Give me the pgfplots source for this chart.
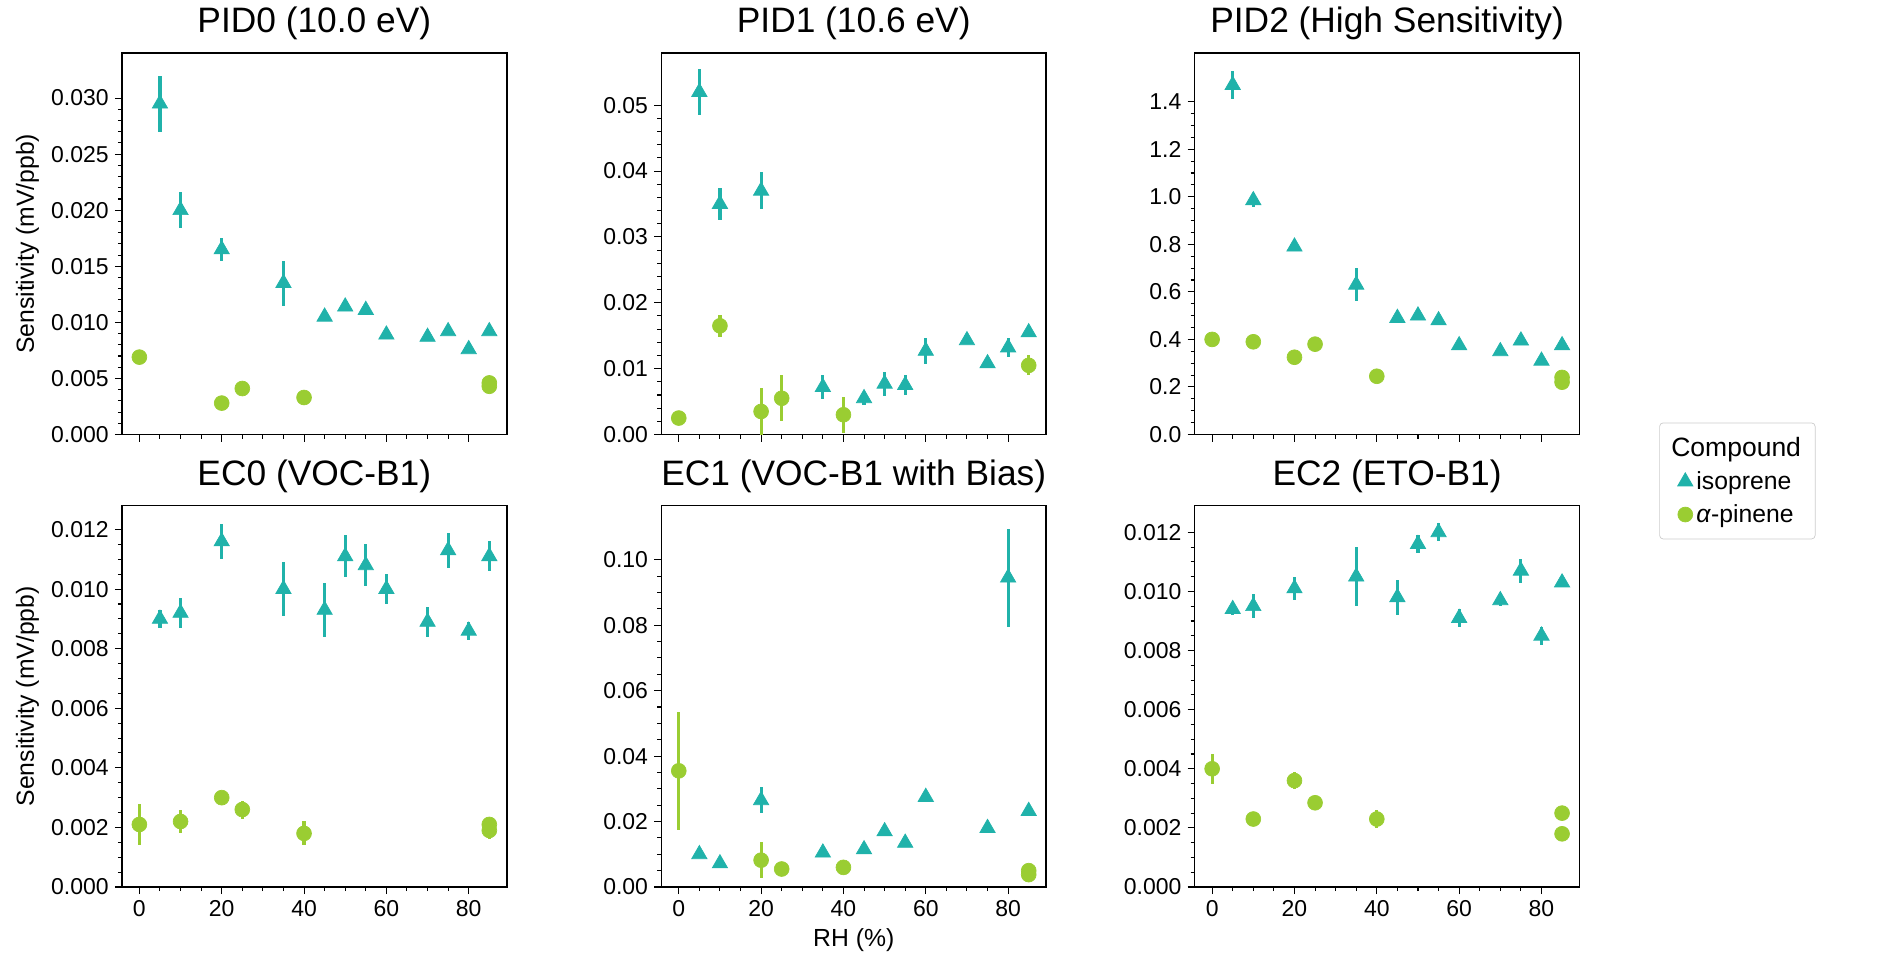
\documentclass[border=0pt]{standalone}
\usepackage{fontspec}
\setmainfont{Liberation Sans}
\usepackage{pgfplots}
\pgfplotsset{compat=1.18}
\definecolor{iso}{HTML}{20B2AA}
\definecolor{pin}{HTML}{9ACD32}
\pgfplotsset{
 common/.style={scale only axis, width=7.656cm, height=7.584cm, anchor=south west,
  xmin=-4.25, xmax=89.25, ymin=0, xtick={0,20,40,60,80}, minor x tick num=3,
  tick align=outside, xtick pos=bottom, ytick pos=left,
  major tick length=0.14cm, minor tick length=0.08cm,
  tick style={black, line width=0.6pt}, axis line style={line width=0.8pt},
  ticklabel style={font=\fontsize{13}{15}\selectfont},
  /pgf/number format/assume math mode=true,
  scaled y ticks=false,
  title style={font=\fontsize{20}{24}\selectfont, yshift=-2pt},
  label style={font=\fontsize{14}{16}\selectfont},
  error bars/y dir=both, error bars/y explicit, error bars/error mark=none,
  error bars/error bar style={line width=1.8pt},
 },
 prec/.style={yticklabel style={/pgf/number format/.cd, fixed, fixed zerofill, precision=#1}},
 isos/.style={only marks, mark=triangle*, mark size=5pt, color=iso, mark options={fill=iso, draw=iso},
   error bars/error bar style={line width=1.8pt, iso}},
 pins/.style={only marks, mark=*, mark size=4.2pt, color=pin, mark options={fill=pin, draw=pin},
   error bars/error bar style={line width=1.8pt, pin}},
}
\begin{document}
\begin{tikzpicture}
\path[use as bounding box] (0,0) rectangle (37.63,19.37);
% PID0
\begin{axis}[common, at={(2.424cm,10.728cm)}, ymax=0.034, ytick={0,0.005,...,0.031}, minor y tick num=4, prec=3,
 xticklabels={}, title={PID0 (10.0 eV)}, ylabel={Sensitivity (mV/ppb)}]
\addplot+[isos] table[y error index=2]{
x y e
5 0.0295 0.0025
10 0.0200 0.0016
20 0.0165 0.0010
35 0.0135 0.0020
45 0.0105 0.0003
50 0.0114 0.0003
55 0.0111 0.0004
60 0.0089 0.0002
70 0.0087 0.0002
75 0.0092 0.0002
80 0.0076 0.0002
85 0.0092 0.0002
};
\addplot+[pins] table[y error index=2]{
x y e
0 0.0069 0.0001
20 0.0028 0.0001
25 0.0041 0.0001
40 0.0033 0.0001
85 0.0046 0.0002
85 0.0043 0.0002
};
\end{axis}
% PID1
\begin{axis}[common, at={(13.152cm,10.728cm)}, ymax=0.0579, ytick={0,0.01,...,0.051}, minor y tick num=4, prec=2,
 xticklabels={}, title={PID1 (10.6 eV)}]
\addplot+[isos] table[y error index=2]{
x y e
5 0.052 0.0035
10 0.035 0.0025
20 0.037 0.0028
35 0.0072 0.0018
45 0.0055 0.001
50 0.0077 0.0018
55 0.0075 0.0015
60 0.0127 0.002
70 0.0143 0.0005
75 0.0108 0.0005
80 0.0132 0.0015
85 0.0155 0.0007
};
\addplot+[pins] table[y error index=2]{
x y e
0 0.0025 0.0003
10 0.0165 0.0017
20 0.0035 0.0035
25 0.0055 0.0035
40 0.0030 0.0027
85 0.0105 0.0015
};
\end{axis}
% PID2
\begin{axis}[common, at={(23.76cm,10.728cm)}, ymax=1.604, ytick={0,0.2,...,1.41}, minor y tick num=3, prec=1,
 xticklabels={}, title={PID2 (High Sensitivity)}]
\addplot+[isos] table[y error index=2]{
x y e
5 1.47 0.06
10 0.985 0.03
20 0.79 0.01
35 0.63 0.07
45 0.49 0.01
50 0.50 0.01
55 0.48 0.01
60 0.375 0.01
70 0.35 0.01
75 0.395 0.01
80 0.31 0.01
85 0.375 0.01
};
\addplot+[pins] table[y error index=2]{
x y e
0 0.40 0.01
10 0.39 0.01
20 0.325 0.01
25 0.38 0.01
40 0.245 0.01
85 0.24 0.01
85 0.22 0.01
};
\end{axis}
% EC0
\begin{axis}[common, at={(2.424cm,1.728cm)}, ymax=0.0128, ytick={0,0.002,...,0.0121}, minor y tick num=3, prec=3,
 title={EC0 (VOC-B1)}, ylabel={Sensitivity (mV/ppb)}]
\addplot+[isos] table[y error index=2]{
x y e
5 0.0090 0.0003
10 0.0092 0.0005
20 0.0116 0.0006
35 0.0100 0.0009
45 0.0093 0.0009
50 0.0111 0.0007
55 0.0108 0.0007
60 0.0100 0.0005
70 0.0089 0.0005
75 0.0113 0.0006
80 0.0086 0.0003
85 0.0111 0.0005
};
\addplot+[pins] table[y error index=2]{
x y e
0 0.0021 0.0007
10 0.0022 0.0004
20 0.0030 0.0001
25 0.0026 0.0003
40 0.0018 0.0004
85 0.0021 0.0002
85 0.0019 0.0003
};
\end{axis}
% EC1
\begin{axis}[common, at={(13.152cm,1.728cm)}, ymax=0.1165, ytick={0,0.02,...,0.101}, minor y tick num=3, prec=2,
 title={EC1 (VOC-B1 with Bias)}, xlabel={RH (\%)}]
\addplot+[isos] table[y error index=2]{
x y e
5 0.0100 0.0005
10 0.0072 0.0005
20 0.0265 0.004
35 0.0105 0.0008
45 0.0115 0.0008
50 0.0170 0.0008
55 0.0135 0.0008
60 0.0275 0.001
75 0.0180 0.0015
80 0.0945 0.015
85 0.0232 0.001
};
\addplot+[pins] table[y error index=2]{
x y e
0 0.0355 0.018
20 0.0082 0.0055
25 0.0055 0.0005
40 0.0060 0.0015
85 0.0050 0.0005
85 0.0038 0.0005
};
\end{axis}
% EC2
\begin{axis}[common, at={(23.76cm,1.728cm)}, ymax=0.0129, ytick={0,0.002,...,0.0121}, minor y tick num=3, prec=3,
 title={EC2 (ETO-B1)},
 legend style={at={(1.207,1.218)}, anchor=north west, font=\fontsize{14}{17}\selectfont,
   draw=black!20, rounded corners=2pt, row sep=3pt, inner sep=6pt},
 legend cell align=left]
\addlegendimage{empty legend}\addlegendentry{\hspace{-0.5cm}\fontsize{15}{18}\selectfont Compound}
\addplot+[isos] table[y error index=2]{
x y e
5 0.0094 0.0002
10 0.0095 0.0004
20 0.0101 0.0004
35 0.0105 0.0010
45 0.0098 0.0006
50 0.0116 0.0003
55 0.0120 0.0003
60 0.0091 0.0003
70 0.0097 0.0002
75 0.0107 0.0004
80 0.0085 0.0003
85 0.0103 0.0001
};
\addlegendentry{isoprene}
\addplot+[pins] table[y error index=2]{
x y e
0 0.0040 0.0005
10 0.0023 0.0001
20 0.0036 0.0003
25 0.00285 0.0001
40 0.0023 0.0003
85 0.0025 0.0001
85 0.0018 0.0001
};
\addlegendentry{\textit{α}-pinene}
\end{axis}
\end{tikzpicture}
\end{document}
